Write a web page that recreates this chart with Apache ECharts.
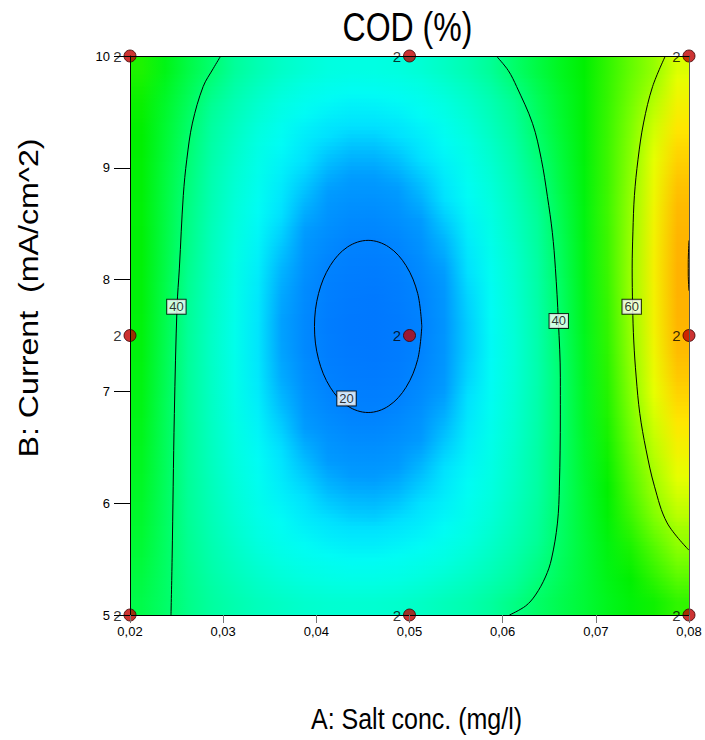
<!DOCTYPE html>
<html>
<head>
<meta charset="utf-8">
<title>COD (%)</title>
<script src="https://cdn.jsdelivr.net/npm/echarts@6/dist/echarts.min.js"></script>
<style>
  html, body { margin: 0; padding: 0; background: #ffffff; }
  #chart { width: 705px; height: 740px; }
</style>
</head>
<body>
<div id="chart"></div>
<script>
// Centres of the response grid cells: A = salt conc. (mg/l), B = current (mA/cm^2)
const cellSalt = [0.02125, 0.02375, 0.02625, 0.02875, 0.03125, 0.03375, 0.03625, 0.03875,
                  0.04125, 0.04375, 0.04625, 0.04875, 0.05125, 0.05375, 0.05625, 0.05875,
                  0.06125, 0.06375, 0.06625, 0.06875, 0.07125, 0.07375, 0.07625, 0.07875];
const cellCurrent = [5.125, 5.375, 5.625, 5.875, 6.125, 6.375, 6.625, 6.875, 7.125, 7.375,
                     7.625, 7.875, 8.125, 8.375, 8.625, 8.875, 9.125, 9.375, 9.625, 9.875];

// Predicted COD removal (%), one row per current level, from B = 5.125 up to B = 9.875
const codRows = [
  [43.0,40.7,38.4,36.6,35.0,33.7,32.8,32.0,31.6,31.5,31.6,32.0,32.8,33.9,35.0,36.7,38.6,40.6,42.7,44.7,46.8,48.9,50.9,53.0],
  [43.9,40.9,38.1,35.7,33.7,32.0,30.7,29.7,29.1,28.7,28.8,29.2,30.0,31.1,32.5,34.2,36.4,38.9,41.7,44.6,47.5,50.3,53.2,56.1],
  [44.8,41.1,37.8,34.9,32.5,30.4,28.7,27.5,26.7,26.2,26.2,26.7,27.4,28.7,30.3,32.4,34.8,37.7,41.0,44.6,48.1,51.7,55.3,58.9],
  [45.5,41.3,37.6,34.3,31.5,29.1,27.3,25.9,24.9,24.4,24.3,24.8,25.7,26.9,28.8,31.0,33.7,36.9,40.6,44.9,49.3,53.6,57.9,60.8],
  [46.0,41.5,37.4,33.9,30.9,28.3,26.2,24.7,23.6,23.1,23.0,23.4,24.4,25.8,27.7,30.1,33.0,36.3,40.3,45.2,50.0,54.9,59.7,62.0],
  [46.5,41.7,37.3,33.5,30.3,27.6,25.3,23.7,22.5,21.9,21.8,22.3,23.3,24.8,26.8,29.4,32.5,36.1,40.2,45.5,50.7,56.0,60.6,63.2],
  [47.0,41.8,37.3,33.2,29.8,26.9,24.5,22.7,21.5,20.8,20.7,21.2,22.2,23.8,26.0,28.7,31.9,35.8,40.1,45.8,51.4,57.0,61.4,64.5],
  [47.5,42.0,37.2,32.9,29.3,26.2,23.7,21.8,20.5,19.8,19.7,20.2,21.3,22.9,25.2,28.0,31.5,35.5,40.1,46.1,52.0,57.9,62.2,65.6],
  [48.0,42.3,37.2,32.8,28.9,25.7,23.1,21.2,19.8,19.1,18.9,19.4,20.5,22.2,24.6,27.5,31.1,35.3,40.1,46.3,52.4,58.6,62.9,66.6],
  [48.4,42.5,37.3,32.7,28.8,25.4,22.8,20.7,19.3,18.6,18.4,18.9,20.1,21.9,24.3,27.3,31.0,35.4,40.4,46.6,52.8,59.1,63.4,67.4],
  [48.7,42.8,37.4,32.8,28.8,25.4,22.7,20.7,19.2,18.5,18.3,18.8,20.0,21.8,24.3,27.4,31.1,35.5,40.7,46.9,53.1,59.4,63.8,67.9],
  [48.9,43.0,37.7,33.1,29.1,25.7,23.0,20.9,19.5,18.8,18.6,19.2,20.3,22.1,24.6,27.7,31.5,35.9,41.0,47.2,53.4,59.6,63.9,68.2],
  [49.2,43.3,38.1,33.5,29.5,26.2,23.5,21.5,20.1,19.4,19.2,19.7,20.9,22.7,25.1,28.2,31.9,36.3,41.5,47.5,53.6,59.6,64.0,68.2],
  [49.3,43.5,38.5,33.9,30.1,26.9,24.3,22.3,21.0,20.2,20.1,20.6,21.8,23.5,26.0,29.0,32.6,36.9,42.0,47.8,53.7,59.5,63.8,67.9],
  [49.2,43.7,38.8,34.5,30.8,27.6,25.1,23.2,21.9,21.2,21.1,21.7,22.9,24.6,27.0,29.9,33.4,37.6,42.7,48.2,53.8,59.3,63.5,67.5],
  [49.4,44.0,39.3,35.0,31.4,28.5,26.0,24.2,22.9,22.3,22.3,22.8,23.9,25.7,28.0,30.9,34.4,38.5,43.5,48.6,53.7,58.9,63.0,66.9],
  [49.8,44.5,39.8,35.7,32.3,29.3,27.0,25.3,24.1,23.5,23.5,24.1,25.2,26.9,29.1,32.0,35.5,39.6,44.2,48.9,53.7,58.4,62.4,66.0],
  [50.1,45.1,40.6,36.6,33.4,30.6,28.3,26.6,25.5,25.0,25.0,25.5,26.7,28.4,30.7,33.5,36.9,40.8,45.1,49.3,53.5,57.8,61.6,64.9],
  [50.7,45.9,41.8,38.1,34.9,32.3,30.2,28.6,27.6,27.0,27.1,27.6,28.6,30.3,32.3,34.9,38.1,41.8,45.6,49.4,53.2,57.0,60.6,63.5],
  [51.8,47.4,43.4,40.0,37.1,34.6,32.6,31.2,30.1,29.7,29.8,30.3,31.3,32.9,34.8,37.5,40.4,43.6,46.7,49.9,53.0,56.2,59.3,62.1]
];

// Design points (factorial + axial + centre), each run twice
const designSalt    = [0.02, 0.02, 0.02, 0.05, 0.05, 0.05, 0.08, 0.08, 0.08];
const designCurrent = [5, 7.5, 10, 5, 7.5, 10, 5, 7.5, 10];
const designRuns    = [2, 2, 2, 2, 2, 2, 2, 2, 2];

// Contour lines of the fitted surface, [salt, current]
const contour20 = [[0.05132,7.581],[0.05088,7.876],[0.04963,8.125],[0.04777,8.292],[0.04556,8.351],
                   [0.04335,8.292],[0.04149,8.125],[0.04024,7.876],[0.0398,7.581],[0.04024,7.286],
                   [0.04149,7.037],[0.04335,6.87],[0.04556,6.811],[0.04777,6.87],[0.04963,7.037],
                   [0.05088,7.286],[0.05132,7.581]];
const contour40Left = [[0.02974,10],[0.02895,9.89],[0.02785,9.726],[0.0267,9.40],[0.0261,9.077],
                       [0.02572,8.751],[0.0253,8.103],[0.02505,7.757],[0.02476,6.802],[0.02452,5.502],
                       [0.0244,5]];
const contour40Right = [[0.05932,10],[0.0606,9.87],[0.0615,9.726],[0.0632,9.398],[0.06415,9.076],
                        [0.0648,8.745],[0.06533,8.423],[0.06566,8.101],[0.06598,7.628],[0.06619,7.127],
                        [0.06619,6.797],[0.06609,6.153],[0.06588,5.822],[0.06524,5.501],[0.06459,5.34],
                        [0.06352,5.179],[0.06245,5.08],[0.06073,5]];
const contour60 = [[0.07746,10],[0.07609,9.726],[0.07512,9.401],[0.07453,9.077],[0.07414,8.751],
                   [0.07398,8.427],[0.0739,8.103],[0.07395,7.757],[0.07407,7.451],[0.07433,7.129],
                   [0.07472,6.802],[0.07539,6.478],[0.07629,6.152],[0.07765,5.824],[0.07999,5.58]];
const contour70 = [[0.08,8.35],[0.07992,8.15],[0.07992,8.05],[0.08,7.9]];

// Where each contour carries its level tag
const contourLevels = [20, 40, 40, 60];
const contourTagAt  = [[0.04324,6.937],[0.02498,7.757],[0.06602,7.63],[0.07385,7.757]];

const xTicks = [0.02, 0.03, 0.04, 0.05, 0.06, 0.07, 0.08];
const yTicks = [5, 6, 7, 8, 9, 10];

// Colour ramp for COD, 15 % to 72.5 % in 2.5 % steps
const codColours = ['#005aff','#0073ff','#0082ff','#009bff','#00e1ff','#00fcf5','#00ffe1','#00ffc8',
                    '#00ffaf','#00ff96','#00ff6e','#00fc50','#00fa32','#00f514','#00f000','#28f500',
                    '#50fa00','#78ff00','#a0ff00','#e6ff00','#ffe600','#ffb900','#ffa000','#ff7800'];
const codLow = 15, codHigh = 72.5;

const sans = "'Liberation Sans', Arial, Helvetica, sans-serif";
const xMin = xTicks[0], xMax = xTicks[xTicks.length - 1];
const yMin = yTicks[0], yMax = yTicks[yTicks.length - 1];

function codColour(v) {
  const t = Math.max(0, Math.min(1, (v - codLow) / (codHigh - codLow)));
  return echarts.color.lerp(t, codColours);
}

// One horizontal strip of the shaded surface, coloured along A by a gradient
function strip(api, yLow, yHigh, values) {
  const tl = api.coord([xMin, yHigh]);
  const br = api.coord([xMax, yLow]);
  const stops = [{ offset: 0, color: codColour(values[0]) }];
  cellSalt.forEach((x, i) => stops.push({ offset: (x - xMin) / (xMax - xMin), color: codColour(values[i]) }));
  stops.push({ offset: 1, color: codColour(values[values.length - 1]) });
  return {
    type: 'rect',
    shape: { x: tl[0], y: tl[1] - 0.5, width: br[0] - tl[0], height: br[1] - tl[1] + 1 },
    style: { fill: new echarts.graphic.LinearGradient(0, 0, 1, 0, stops) }
  };
}

const SUB = 7; // shading strips between two neighbouring grid rows
function renderSurface(params, api) {
  const j = params.dataIndex;
  const row = cellSalt.map((_, i) => api.value(2 + i));
  const children = [];
  if (j === 0) children.push(strip(api, yMin, cellCurrent[0], row));
  if (j === codRows.length - 1) {
    children.push(strip(api, cellCurrent[j], yMax, row));
  } else {
    const next = codRows[j + 1];
    const y0 = cellCurrent[j], y1 = cellCurrent[j + 1];
    for (let s = 0; s < SUB; s++) {
      const f = (s + 0.5) / SUB;
      const shade = row.map((v, i) => v + f * (next[i] - v));
      children.push(strip(api, y0 + (y1 - y0) * s / SUB, y0 + (y1 - y0) * (s + 1) / SUB, shade));
    }
  }
  return { type: 'group', children };
}

const contourLine = (pts) => ({
  type: 'line', data: pts, smooth: 0.35, symbol: 'none', silent: true, z: 3, clip: true,
  lineStyle: { color: '#000', width: 1 }
});

const chart = echarts.init(document.getElementById('chart'), null, { renderer: 'svg' });
chart.setOption({
  animation: false,
  backgroundColor: '#ffffff',
  grid: { left: 130, top: 56, width: 559, height: 559, containLabel: false },
  xAxis: [
    { type: 'value', min: xMin, max: xMax, interval: 0.01, z: 10,
      axisLine: { show: true, onZero: false, lineStyle: { color: '#000', width: 1 } },
      axisTick: { show: true, length: 8, lineStyle: { color: '#777' } },
      axisLabel: { margin: 10, fontFamily: sans, fontSize: 13, color: '#000',
                   formatter: (v) => v.toFixed(2).replace('.', ',') },
      splitLine: { show: false } },
    { type: 'value', position: 'top', min: xMin, max: xMax, z: 10,
      axisLine: { show: true, onZero: false, lineStyle: { color: '#000', width: 1 } },
      axisTick: { show: false }, axisLabel: { show: false }, splitLine: { show: false } }
  ],
  yAxis: [
    { type: 'value', min: yMin, max: yMax, interval: 1, z: 10,
      axisLine: { show: true, onZero: false, lineStyle: { color: '#000', width: 1 } },
      axisTick: { show: true, length: 16, lineStyle: { color: '#000' } },
      axisLabel: { margin: 20, fontFamily: sans, fontSize: 13, color: '#000' },
      splitLine: { show: false } },
    { type: 'value', position: 'right', min: yMin, max: yMax, z: 10,
      axisLine: { show: true, onZero: false, lineStyle: { color: '#555', width: 1 } },
      axisTick: { show: false }, axisLabel: { show: false }, splitLine: { show: false } }
  ],
  graphic: [
    { type: 'text', x: 407.5, y: 27, scaleY: 1.25, silent: true,
      style: { text: 'COD (%)', font: '32px ' + sans, fill: '#000',
               align: 'center', verticalAlign: 'middle' } },
    { type: 'text', x: 416.5, y: 719, scaleY: 1.16, silent: true,
      style: { text: 'A: Salt conc. (mg/l)', font: '25px ' + sans, fill: '#000',
               align: 'center', verticalAlign: 'middle' } },
    { type: 'text', x: 28, y: 298, rotation: Math.PI / 2, scaleX: 1.15, silent: true,
      style: { text: 'B: Current  (mA/cm^2)', font: '28px ' + sans, fill: '#000',
               align: 'center', verticalAlign: 'middle' } }
  ],
  series: [
    { type: 'custom', name: 'COD (%)', silent: true, z: 1, clip: true,
      data: codRows.map((row, j) => [xMin, cellCurrent[j]].concat(row)),
      renderItem: renderSurface },
    contourLine(contour20),
    contourLine(contour40Left),
    contourLine(contour40Right),
    contourLine(contour60),
    contourLine(contour70),
    { type: 'scatter', silent: true, z: 4, clip: false, symbolSize: 0,
      data: contourTagAt.map((p, k) => ({ value: p, level: contourLevels[k] })),
      label: { show: true, position: 'inside', fontFamily: sans, fontSize: 13, color: '#000',
               backgroundColor: '#fff', borderColor: '#000', borderWidth: 1, padding: [1, 2, 0, 2],
               formatter: (p) => String(p.data.level) } },
    { type: 'scatter', silent: true, z: 6, clip: false, symbol: 'circle', symbolSize: 12,
      itemStyle: { color: '#c00000', borderColor: '#3a0000', borderWidth: 1 },
      data: designSalt.map((x, k) => ({ value: [x, designCurrent[k]], runs: designRuns[k] })),
      label: { show: true, position: 'left', distance: 2, fontFamily: sans, fontSize: 15,
               color: '#000', formatter: (p) => String(p.data.runs) } }
  ]
});
</script>
</body>
</html>
